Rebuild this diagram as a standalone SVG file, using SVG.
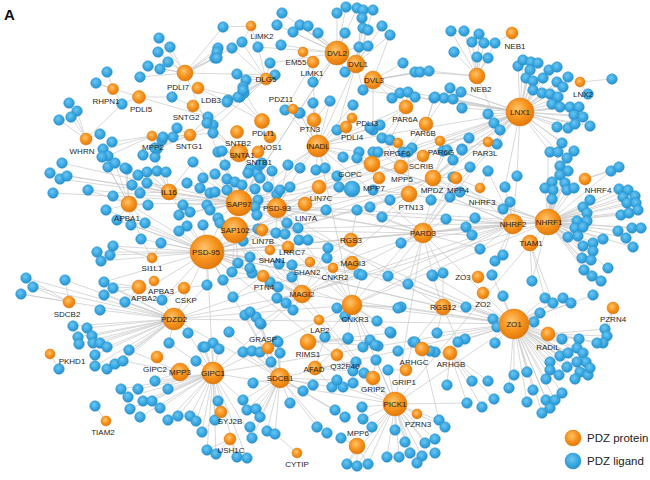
<svg xmlns="http://www.w3.org/2000/svg" width="650" height="480" viewBox="0 0 650 480">
<defs>
<radialGradient id="go" cx="42%" cy="38%" r="62%"><stop offset="0" stop-color="#ffc46e"/><stop offset="0.55" stop-color="#f7941d"/><stop offset="1" stop-color="#e27a0c"/></radialGradient>
<radialGradient id="gb" cx="42%" cy="38%" r="62%"><stop offset="0" stop-color="#6cc6f2"/><stop offset="0.6" stop-color="#3aa8e1"/><stop offset="1" stop-color="#2a93cf"/></radialGradient>
<style>
.e{stroke:#c9c9c9;stroke-width:0.7;fill:none}
.b{fill:url(#gb);stroke:#2b8fc9;stroke-width:0.5}
.o circle{fill:url(#go);stroke:#d9770e;stroke-width:0.5}
text{font-family:"Liberation Sans",Arial,sans-serif;font-size:8px;fill:#1e1e1e;text-anchor:middle}
.lg{font-size:11.5px;text-anchor:start;fill:#222}
</style>
</defs>
<rect width="650" height="480" fill="#fff"/>
<text x="4" y="20" style="font-size:15px;font-weight:bold;text-anchor:start;fill:#111">A</text>
<g id="connectors" class="e">
<path d="M185 73L159 38M185 73L170 47M185 73L158 52M185 73L168 62M185 73L160 69M185 73L148 66M185 73L140 77M185 73L172 97M185 73L223 27M185 73L217 52M185 73L217 58M185 73L215 58M185 73L218 48M185 73L275 75M185 73L232 48"/>
<path d="M139 97L122 104M139 97L172 97M139 97L96 83M139 97L208 117M113 89L107 72M113 89L96 83M113 89L122 104M86 139L69 103M86 139L77 111M86 139L59 120M86 139L71 117M86 139L100 134M86 139L122 104"/>
<path d="M152 136L157 149M152 136L162 140M152 136L112 142M152 136L103 149M152 136L108 156M190 135L173 137M190 135L177 128M190 135L163 137M190 135L155 148M190 135L143 155M190 135L213 125M190 135L213 133M190 135L208 117M193 106L172 97M193 106L208 117M198 88L227 102M198 88L238 97"/>
<path d="M251 26L223 27M251 26L242 42M251 26L258 47"/>
<path d="M337 53L282 13M337 53L277 25M337 53L300 25M337 53L308 26M337 53L293 32M337 53L318 33M337 53L346 7M337 53L337 13M337 53L357 8M337 53L345 33M337 53L313 82M337 53L345 72M337 53L359 47M337 53L281 45M337 53L270 63M337 53L258 47"/>
<path d="M356 64L363 10M356 64L373 10M356 64L362 18M356 64L363 28M356 64L368 30M356 64L382 26M356 64L368 46M356 64L390 35M356 64L345 72M356 64L363 90M356 64L337 130"/>
<path d="M373 80L390 35M373 80L403 63M373 80L415 72M373 80L392 98M373 80L400 93M373 80L408 92M373 80L420 72M373 80L429 71M373 80L363 90M373 80L373 130"/>
<path d="M266 79L237 74M266 79L246 80M266 79L243 87M266 79L244 93M266 79L240 97M266 79L228 100M266 79L275 75M266 79L270 63M266 79L258 47M266 79L207 123M266 79L213 128M266 79L242 42M266 79L232 48M313 62L313 82M313 62L285 110"/>
<path d="M477 76L451 31M477 76L464 31M477 76L479 34M477 76L472 42M477 76L484 43M477 76L495 43M477 76L454 52M477 76L477 57M477 76L488 58M477 76L500 130M477 76L420 72M477 76L429 71M512 33L495 43"/>
<path d="M520 112L518 66M520 112L523 60M520 112L531 62M520 112L538 63M520 112L530 70M520 112L549 70M520 112L557 67M520 112L526 78M520 112L533 81M520 112L543 78M520 112L557 82M520 112L568 77M520 112L533 90M520 112L542 93M520 112L550 94M520 112L558 97M520 112L563 87M520 112L552 104M520 112L560 107M520 112L570 107M520 112L579 107M520 112L574 115M520 112L583 117M520 112L557 127M520 112L568 128M520 112L575 124M520 112L590 126M520 112L488 114M520 112L494 123M520 112L500 130M520 112L462 108M520 112L453 99M520 112L444 98M520 112L434 98M520 112L461 92M520 112L450 88M520 112L408 92M520 112L363 90M520 112L505 187M520 112L517 176M520 112L469 138M520 112L462 149M520 112L497 144M520 112L550 152M520 112L558 152M520 112L562 143M520 112L574 151M520 112L415 97"/>
<path d="M580 82L612 79M580 82L588 94M406 107L392 98M406 107L400 93M406 107L408 92M406 107L415 97M406 107L373 130M406 107L382 138M406 107L390 140M426 124L435 97M426 124L444 98M426 124L434 98M426 124L443 151M426 124L412 148M426 124L403 152M440 141L443 151M440 141L469 138M398 143L373 152M398 143L403 152M398 143L412 148M398 143L382 138M488 142L497 144M488 142L462 149"/>
<path d="M548 222L548 152M548 222L558 152M548 222L574 151M548 222L567 158M548 222L560 166M548 222L568 171M548 222L560 175M548 222L565 183M548 222L552 182M548 222L545 188M548 222L553 190M548 222L567 190M548 222L574 188M548 222L552 199M548 222L590 200M548 222L583 207M548 222L587 213M548 222L577 221M548 222L587 221M548 222L575 228M548 222L568 237M548 222L578 236M548 222L583 227M548 222L583 246M548 222L593 243M548 222L603 239M548 222L593 251M548 222L582 258M548 222L591 260M548 222L584 270M548 222L592 276M548 222L601 281M548 222L608 268M548 222L618 231M548 222L626 238M548 222L633 247M548 222L632 228M548 222L641 228M548 222L619 189M548 222L628 190M548 222L635 196M548 222L623 197M548 222L627 203M548 222L636 203M548 222L621 215M548 222L629 213M548 222L638 210M548 222L532 281M548 222L611 171"/>
<path d="M585 179L611 171M585 179L619 167M513 224L488 171M513 224L517 176M513 224L505 187M513 224L510 202M513 224L503 209M513 224L475 218M513 224L466 227M513 224L472 235M513 224L446 219M513 224L480 249M513 224L495 261M513 224L503 255M513 224L453 177M513 224L450 197M480 188L488 171M480 188L453 177M530 243L532 281M530 243L545 298M530 243L553 303"/>
<path d="M423 233L431 200M423 233L446 219M423 233L450 197M423 233L453 177M423 233L466 227M423 233L472 235M423 233L401 243M423 233L408 284M423 233L433 276M423 233L443 273M423 233L480 249M423 233L388 276M423 233L357 210M423 233L382 217M433 178L447 150M433 178L462 150M433 178L453 160M433 178L470 167M433 178L460 192M433 178L431 200M433 178L453 177M433 178L443 151"/>
<path d="M409 194L390 200M409 194L373 190M409 194L370 207M409 194L357 208M409 194L382 217M409 194L408 152M401 167L378 152M401 167L408 152M401 167L382 138M401 167L390 140M379 178L373 190M379 178L357 158M372 164L359 152M372 164L343 157M372 164L357 158"/>
<path d="M318 146L313 103M318 146L330 101M318 146L300 113M318 146L285 110M318 146L299 113M318 146L316 170M318 146L325 168M318 146L337 130M318 146L343 157M318 146L359 152M318 146L300 168M318 146L288 165M318 146L337 176M318 146L353 105M318 146L370 128M318 146L380 125M318 146L313 82M314 120L299 113M314 120L313 103M314 120L330 101M262 121L238 97M262 121L227 102M262 121L243 90M239 153L207 123M239 153L213 128M239 153L213 133M239 153L222 151M239 153L218 152M239 153L225 165M239 153L250 169"/>
<path d="M514 324L493 319M514 324L534 322M514 324L540 313M514 324L562 339M514 324L579 339M514 324L577 348M514 324L583 353M514 324L560 356M514 324L568 353M514 324L586 362M514 324L577 362M514 324L550 362M514 324L567 367M514 324L559 375M514 324L550 370M514 324L546 379M514 324L580 372M514 324L588 375M514 324L590 368M514 324L575 379M514 324L527 372M514 324L514 375M514 324L509 388M514 324L533 390M514 324L527 402M514 324L546 400M514 324L555 400M514 324L562 393M514 324L550 408M514 324L542 413M514 324L495 343M514 324L465 339M514 324L437 333M514 324L503 296M514 324L492 275M514 324L553 303M514 324L563 298M514 324L571 303M514 324L545 298M514 324L593 295M514 324L497 327M514 324L458 342M514 324L432 275M514 324L401 307M514 324L408 284M514 324L388 276"/>
<path d="M548 334L605 329M548 334L607 336M548 334L603 343M548 334L597 343M613 308L605 329M613 308L607 336M450 353L472 381M450 353L447 385M450 353L482 407M450 353L467 403M450 353L494 399M450 353L488 381M450 353L435 352M422 349L435 352M422 349L415 342M422 349L430 351M422 349L439 420M406 370L388 370M406 370L413 342M373 378L364 373M373 378L376 360"/>
<path d="M395 404L362 407M395 404L363 419M395 404L372 427M395 404L347 464M395 404L357 466M395 404L368 464M395 404L387 457M395 404L399 457M395 404L395 430M395 404L405 442M395 404L410 453M395 404L417 463M395 404L435 439M395 404L425 443M395 404L435 453M395 404L422 456M395 404L439 420M395 404L445 427M395 404L388 370M395 404L376 360M395 404L364 373M395 404L353 383M395 404L343 387M395 404L467 403M357 446L347 464M357 446L357 466M357 446L368 464M357 446L341 438"/>
<path d="M352 305L337 308M352 305L345 316M352 305L377 321M352 305L398 308M352 305L348 338M352 305L325 337M352 305L363 347M352 305L375 345M352 305L390 332M352 305L362 275M352 305L327 258M352 305L401 307M302 294L279 264M302 294L292 277M302 294L277 298M302 294L286 303M302 294L293 310M302 294L270 282M302 294L278 287M302 294L292 265M302 294L250 268M302 294L250 312M302 294L260 323M302 294L359 274M302 294L328 248M443 307L466 307M443 307L437 333M443 307L458 342M443 307L432 275M443 307L443 273M443 307L415 342"/>
<path d="M280 378L245 315M280 378L256 317M280 378L261 324M280 378L277 341M280 378L280 353M280 378L243 352M280 378L252 351M280 378L271 362M280 378L253 383M280 378L243 400M280 378L247 410M280 378L256 409M280 378L260 417M280 378L250 427M280 378L267 431M280 378L275 434M280 378L290 403M280 378L303 391M280 378L313 385M280 378L229 332M280 378L252 438M280 378L332 387M280 378L337 380M280 378L317 427M280 378L327 433M280 378L335 410M280 378L345 417M280 378L278 342M280 378L260 352M315 368L325 337M315 368L348 339M315 368L353 371M315 368L356 362M315 368L332 387M308 342L325 337M308 342L348 339M308 342L370 340M308 342L378 346M308 342L391 333"/>
<path d="M213 373L213 343M213 373L219 349M213 373L203 347M213 373L169 343M213 373L188 333M213 373L196 361M213 373L205 347M213 373L155 381M213 373L168 389M213 373L121 389M213 373L138 389M213 373L128 397M213 373L143 401M213 373L152 401M213 373L130 409M213 373L140 417M213 373L160 408M213 373L168 420M213 373L178 416M213 373L190 416M213 373L196 421M213 373L202 432M213 373L207 450M213 373L215 420M213 373L218 410M213 373L216 454M213 373L237 457M213 373L247 458M213 373L252 438M213 373L243 400M180 372L155 381M180 372L168 389M180 372L129 350M180 372L123 361M221 412L202 432M230 439L207 450M230 439L216 454M230 439L237 457M297 453L275 434"/>
<path d="M174 319L73 326M174 319L87 328M174 319L78 337M174 319L92 336M174 319L79 344M174 319L93 343M174 319L100 343M174 319L107 347M174 319L95 355M174 319L95 366M174 319L107 369M174 319L115 364M174 319L123 361M174 319L129 350M174 319L100 310M174 319L104 282M174 319L113 288M174 319L104 295M174 319L26 278M174 319L33 287M174 319L21 294M174 319L65 280M174 319L125 302M174 319L162 300M174 319L188 333M174 319L169 343M174 319L207 285M50 354L59 369M106 421L95 406M69 302L26 278M69 302L33 287M69 302L21 294M69 302L65 280"/>
<path d="M207 252L203 225M207 252L220 223M207 252L207 285M207 252L161 243M207 252L141 239M207 252L179 231M207 252L187 226M207 252L145 223M207 252L131 225M207 252L117 220M207 252L106 210M207 252L97 252M207 252L101 261M207 252L110 255M207 252L113 246M207 252L223 280M207 252L232 272M207 252L233 297M207 252L162 300M207 252L125 302M207 252L104 282M207 252L243 241M207 252L250 257M207 252L238 263M207 252L252 273M207 252L328 248M207 252L388 276M207 252L359 274M207 252L357 210"/>
<path d="M239 203L222 151M239 203L203 178M239 203L215 174M239 203L225 165M239 203L227 179M239 203L235 182M239 203L242 185M239 203L250 169M239 203L257 173M239 203L210 193M239 203L210 210M239 203L187 183M239 203L193 162M239 203L200 188M239 203L227 190M239 203L215 192M239 203L183 205M239 203L190 212M239 203L179 215M239 203L207 205M239 203L218 218M239 203L60 179M239 203L67 176M239 203L53 193M239 203L88 190M239 203L50 173M239 203L62 163M239 203L339 187M239 203L248 173M239 203L260 178"/>
<path d="M235 230L258 229M235 230L243 241M235 230L250 257M235 230L238 263M235 230L232 272M235 230L252 273M235 230L220 223M235 230L210 210M235 230L276 233M277 208L277 194M277 208L255 189M277 208L258 200M277 208L255 207M277 208L257 215M277 208L260 165M277 208L272 171M277 208L288 165M277 208L300 168M277 208L287 223M277 208L276 233M277 208L285 234M277 208L298 228M277 208L299 240M277 208L308 240M277 208L262 163M277 208L268 187M277 208L280 190M277 208L290 187M277 208L326 210M277 208L337 176"/>
<path d="M169 192L157 171M169 192L166 172M169 192L147 172M169 192L138 175M169 192L147 183M169 192L132 185M169 192L140 193M169 192L155 158M169 192L127 169M169 192L193 162M129 204L113 196M129 204L148 205M129 204L131 225M129 204L145 223M129 204L117 220M129 204L106 210M129 204L102 157M129 204L108 167M129 204L127 169M129 204L88 190M129 204L115 163M129 204L125 168M129 204L141 239M152 258L161 243M152 258L141 239M152 258L113 246M139 287L104 282M139 287L113 288M139 287L104 295M139 287L125 302M184 288L162 300M184 288L207 285"/>
<path d="M263 276L252 273M263 276L232 272M263 276L223 280M263 276L233 297M262 230L258 229M262 230L243 241M288 247L299 240M288 247L308 240M288 247L285 234M351 240L328 248M351 240L327 258M351 240L357 210M268 348L261 324M268 348L243 352M268 348L252 351"/>
<path d="M207 252L423 233M207 252L514 324M207 252L352 305M207 252L409 194M207 252L433 178M207 252L513 224M207 252L548 222M207 252L443 307M207 252L302 294M207 252L395 404M207 252L372 164M207 252L520 112M207 252L318 146M207 252L280 378M207 252L213 373M207 252L174 319M239 203L318 146M239 203L520 112M239 203L423 233M239 203L409 194M239 203L548 222M239 203L352 305M239 203L401 167M239 203L337 53M239 203L514 324M235 230L423 233M235 230L514 324M235 230L433 178M235 230L548 222M235 230L302 294M235 230L395 404"/>
<path d="M277 208L423 233M277 208L520 112M277 208L513 224M277 208L443 307M277 208L352 305M318 146L520 112M318 146L423 233M318 146L548 222M318 146L406 107M318 146L352 305M520 112L352 305M520 112L423 233M520 112L433 178M520 112L401 167M520 112L409 194M520 112L372 164M520 112L302 294M514 324L302 294M514 324L352 305M514 324L280 378M514 324L423 233M514 324L213 373M514 324L174 319M514 324L395 404"/>
<path d="M174 319L302 294M174 319L352 305M174 319L423 233M174 319L280 378M213 373L302 294M213 373L352 305M213 373L395 404M395 404L423 233M395 404L302 294M395 404L352 305M395 404L548 222M548 222L423 233M548 222L409 194M548 222L352 305M548 222L372 164M548 222L433 178M548 222L302 294M513 224L401 243M513 224L388 276M513 224L372 164M513 224L352 305M302 294L423 233M302 294L513 224M356 64L318 146M169 192L207 252M129 204L239 203M129 204L207 252M337 53L239 203M185 73L239 203"/>
</g>
<g id="ligands">
<circle class="b" cx="159" cy="38" r="5.3"/><circle class="b" cx="170" cy="47" r="5.3"/><circle class="b" cx="158" cy="52" r="5.3"/><circle class="b" cx="168" cy="62" r="5.3"/><circle class="b" cx="160" cy="69" r="5.3"/><circle class="b" cx="148" cy="66" r="5.3"/><circle class="b" cx="107" cy="72" r="5.3"/><circle class="b" cx="96" cy="83" r="5.3"/><circle class="b" cx="140" cy="77" r="5.3"/><circle class="b" cx="122" cy="104" r="5.3"/><circle class="b" cx="172" cy="97" r="5.3"/><circle class="b" cx="69" cy="103" r="5.3"/><circle class="b" cx="77" cy="111" r="5.3"/><circle class="b" cx="59" cy="120" r="5.3"/><circle class="b" cx="71" cy="117" r="5.3"/><circle class="b" cx="100" cy="134" r="5.3"/><circle class="b" cx="112" cy="142" r="5.3"/><circle class="b" cx="103" cy="149" r="5.3"/><circle class="b" cx="108" cy="156" r="5.3"/><circle class="b" cx="157" cy="149" r="5.3"/><circle class="b" cx="162" cy="140" r="5.3"/><circle class="b" cx="173" cy="137" r="5.3"/><circle class="b" cx="177" cy="128" r="5.3"/><circle class="b" cx="208" cy="117" r="5.3"/><circle class="b" cx="213" cy="125" r="5.3"/><circle class="b" cx="213" cy="133" r="5.3"/><circle class="b" cx="215" cy="58" r="5.3"/><circle class="b" cx="218" cy="48" r="5.3"/><circle class="b" cx="218" cy="152" r="5.3"/><circle class="b" cx="155" cy="157" r="5.3"/>
<circle class="b" cx="223" cy="27" r="5.3"/><circle class="b" cx="282" cy="13" r="5.3"/><circle class="b" cx="277" cy="25" r="5.3"/><circle class="b" cx="300" cy="25" r="5.3"/><circle class="b" cx="308" cy="26" r="5.3"/><circle class="b" cx="293" cy="32" r="5.3"/><circle class="b" cx="318" cy="33" r="5.3"/><circle class="b" cx="346" cy="7" r="5.3"/><circle class="b" cx="337" cy="13" r="5.3"/><circle class="b" cx="357" cy="8" r="5.3"/><circle class="b" cx="363" cy="10" r="5.3"/><circle class="b" cx="373" cy="10" r="5.3"/><circle class="b" cx="362" cy="18" r="5.3"/><circle class="b" cx="363" cy="28" r="5.3"/><circle class="b" cx="368" cy="30" r="5.3"/><circle class="b" cx="345" cy="33" r="5.3"/><circle class="b" cx="382" cy="26" r="5.3"/><circle class="b" cx="390" cy="35" r="5.3"/><circle class="b" cx="359" cy="47" r="5.3"/><circle class="b" cx="368" cy="46" r="5.3"/><circle class="b" cx="242" cy="42" r="5.3"/><circle class="b" cx="232" cy="48" r="5.3"/><circle class="b" cx="217" cy="52" r="5.3"/><circle class="b" cx="217" cy="58" r="5.3"/><circle class="b" cx="258" cy="47" r="5.3"/><circle class="b" cx="281" cy="45" r="5.3"/><circle class="b" cx="270" cy="63" r="5.3"/><circle class="b" cx="237" cy="74" r="5.3"/><circle class="b" cx="246" cy="80" r="5.3"/><circle class="b" cx="243" cy="87" r="5.3"/><circle class="b" cx="244" cy="93" r="5.3"/><circle class="b" cx="240" cy="97" r="5.3"/><circle class="b" cx="228" cy="100" r="5.3"/><circle class="b" cx="275" cy="75" r="5.3"/><circle class="b" cx="313" cy="82" r="5.3"/><circle class="b" cx="285" cy="110" r="5.3"/><circle class="b" cx="300" cy="113" r="5.3"/><circle class="b" cx="313" cy="103" r="5.3"/><circle class="b" cx="330" cy="101" r="5.3"/><circle class="b" cx="353" cy="105" r="5.3"/><circle class="b" cx="345" cy="72" r="5.3"/><circle class="b" cx="363" cy="90" r="5.3"/><circle class="b" cx="337" cy="130" r="5.3"/><circle class="b" cx="392" cy="98" r="5.3"/><circle class="b" cx="400" cy="93" r="5.3"/><circle class="b" cx="408" cy="92" r="5.3"/><circle class="b" cx="373" cy="130" r="5.3"/><circle class="b" cx="382" cy="138" r="5.3"/><circle class="b" cx="390" cy="140" r="5.3"/><circle class="b" cx="373" cy="152" r="5.3"/><circle class="b" cx="403" cy="152" r="5.3"/><circle class="b" cx="412" cy="148" r="5.3"/><circle class="b" cx="403" cy="63" r="5.3"/><circle class="b" cx="415" cy="72" r="5.3"/><circle class="b" cx="207" cy="123" r="5.3"/><circle class="b" cx="222" cy="151" r="5.3"/><circle class="b" cx="227" cy="102" r="5.3"/><circle class="b" cx="238" cy="97" r="5.3"/><circle class="b" cx="243" cy="90" r="5.3"/>
<circle class="b" cx="451" cy="31" r="5.3"/><circle class="b" cx="464" cy="31" r="5.3"/><circle class="b" cx="479" cy="34" r="5.3"/><circle class="b" cx="472" cy="42" r="5.3"/><circle class="b" cx="484" cy="43" r="5.3"/><circle class="b" cx="495" cy="43" r="5.3"/><circle class="b" cx="454" cy="52" r="5.3"/><circle class="b" cx="477" cy="57" r="5.3"/><circle class="b" cx="488" cy="58" r="5.3"/><circle class="b" cx="420" cy="72" r="5.3"/><circle class="b" cx="429" cy="71" r="5.3"/><circle class="b" cx="518" cy="66" r="5.3"/><circle class="b" cx="523" cy="60" r="5.3"/><circle class="b" cx="531" cy="62" r="5.3"/><circle class="b" cx="538" cy="63" r="5.3"/><circle class="b" cx="530" cy="70" r="5.3"/><circle class="b" cx="549" cy="70" r="5.3"/><circle class="b" cx="557" cy="67" r="5.3"/><circle class="b" cx="526" cy="78" r="5.3"/><circle class="b" cx="533" cy="81" r="5.3"/><circle class="b" cx="543" cy="78" r="5.3"/><circle class="b" cx="557" cy="82" r="5.3"/><circle class="b" cx="568" cy="77" r="5.3"/><circle class="b" cx="612" cy="79" r="5.3"/><circle class="b" cx="533" cy="90" r="5.3"/><circle class="b" cx="542" cy="93" r="5.3"/><circle class="b" cx="550" cy="94" r="5.3"/><circle class="b" cx="558" cy="97" r="5.3"/><circle class="b" cx="563" cy="87" r="5.3"/><circle class="b" cx="588" cy="94" r="5.3"/><circle class="b" cx="552" cy="104" r="5.3"/><circle class="b" cx="560" cy="107" r="5.3"/><circle class="b" cx="570" cy="107" r="5.3"/><circle class="b" cx="579" cy="107" r="5.3"/><circle class="b" cx="574" cy="115" r="5.3"/><circle class="b" cx="583" cy="117" r="5.3"/><circle class="b" cx="557" cy="127" r="5.3"/><circle class="b" cx="568" cy="128" r="5.3"/><circle class="b" cx="575" cy="124" r="5.3"/><circle class="b" cx="590" cy="126" r="5.3"/><circle class="b" cx="434" cy="98" r="5.3"/><circle class="b" cx="444" cy="98" r="5.3"/><circle class="b" cx="450" cy="88" r="5.3"/><circle class="b" cx="453" cy="99" r="5.3"/><circle class="b" cx="461" cy="92" r="5.3"/><circle class="b" cx="462" cy="108" r="5.3"/><circle class="b" cx="488" cy="114" r="5.3"/><circle class="b" cx="494" cy="123" r="5.3"/><circle class="b" cx="500" cy="130" r="5.3"/><circle class="b" cx="469" cy="138" r="5.3"/><circle class="b" cx="462" cy="149" r="5.3"/><circle class="b" cx="497" cy="144" r="5.3"/><circle class="b" cx="550" cy="152" r="5.3"/><circle class="b" cx="558" cy="152" r="5.3"/><circle class="b" cx="562" cy="143" r="5.3"/><circle class="b" cx="574" cy="151" r="5.3"/><circle class="b" cx="443" cy="151" r="5.3"/><circle class="b" cx="435" cy="97" r="5.3"/><circle class="b" cx="415" cy="97" r="5.3"/>
<circle class="b" cx="567" cy="158" r="5.3"/><circle class="b" cx="560" cy="166" r="5.3"/><circle class="b" cx="568" cy="171" r="5.3"/><circle class="b" cx="560" cy="175" r="5.3"/><circle class="b" cx="565" cy="183" r="5.3"/><circle class="b" cx="552" cy="182" r="5.3"/><circle class="b" cx="545" cy="188" r="5.3"/><circle class="b" cx="553" cy="190" r="5.3"/><circle class="b" cx="567" cy="190" r="5.3"/><circle class="b" cx="574" cy="188" r="5.3"/><circle class="b" cx="552" cy="199" r="5.3"/><circle class="b" cx="488" cy="171" r="5.3"/><circle class="b" cx="517" cy="176" r="5.3"/><circle class="b" cx="505" cy="187" r="5.3"/><circle class="b" cx="510" cy="202" r="5.3"/><circle class="b" cx="503" cy="209" r="5.3"/><circle class="b" cx="475" cy="218" r="5.3"/><circle class="b" cx="466" cy="227" r="5.3"/><circle class="b" cx="472" cy="235" r="5.3"/><circle class="b" cx="446" cy="219" r="5.3"/><circle class="b" cx="480" cy="249" r="5.3"/><circle class="b" cx="495" cy="261" r="5.3"/><circle class="b" cx="503" cy="255" r="5.3"/><circle class="b" cx="453" cy="177" r="5.3"/><circle class="b" cx="450" cy="197" r="5.3"/><circle class="b" cx="431" cy="200" r="5.3"/><circle class="b" cx="611" cy="171" r="5.3"/><circle class="b" cx="619" cy="167" r="5.3"/><circle class="b" cx="590" cy="200" r="5.3"/><circle class="b" cx="583" cy="207" r="5.3"/><circle class="b" cx="587" cy="213" r="5.3"/><circle class="b" cx="577" cy="221" r="5.3"/><circle class="b" cx="587" cy="221" r="5.3"/><circle class="b" cx="575" cy="228" r="5.3"/><circle class="b" cx="568" cy="237" r="5.3"/><circle class="b" cx="578" cy="236" r="5.3"/><circle class="b" cx="583" cy="227" r="5.3"/><circle class="b" cx="583" cy="246" r="5.3"/><circle class="b" cx="593" cy="243" r="5.3"/><circle class="b" cx="603" cy="239" r="5.3"/><circle class="b" cx="593" cy="251" r="5.3"/><circle class="b" cx="582" cy="258" r="5.3"/><circle class="b" cx="591" cy="260" r="5.3"/><circle class="b" cx="584" cy="270" r="5.3"/><circle class="b" cx="592" cy="276" r="5.3"/><circle class="b" cx="601" cy="281" r="5.3"/><circle class="b" cx="608" cy="268" r="5.3"/><circle class="b" cx="618" cy="231" r="5.3"/><circle class="b" cx="626" cy="238" r="5.3"/><circle class="b" cx="633" cy="247" r="5.3"/><circle class="b" cx="632" cy="228" r="5.3"/><circle class="b" cx="641" cy="228" r="5.3"/><circle class="b" cx="619" cy="189" r="5.3"/><circle class="b" cx="628" cy="190" r="5.3"/><circle class="b" cx="635" cy="196" r="5.3"/><circle class="b" cx="623" cy="197" r="5.3"/><circle class="b" cx="627" cy="203" r="5.3"/><circle class="b" cx="636" cy="203" r="5.3"/><circle class="b" cx="621" cy="215" r="5.3"/><circle class="b" cx="629" cy="213" r="5.3"/><circle class="b" cx="638" cy="210" r="5.3"/><circle class="b" cx="532" cy="281" r="5.3"/><circle class="b" cx="593" cy="295" r="5.3"/><circle class="b" cx="545" cy="298" r="5.3"/><circle class="b" cx="553" cy="303" r="5.3"/><circle class="b" cx="563" cy="298" r="5.3"/><circle class="b" cx="571" cy="303" r="5.3"/><circle class="b" cx="503" cy="296" r="5.3"/><circle class="b" cx="492" cy="275" r="5.3"/><circle class="b" cx="433" cy="276" r="5.3"/><circle class="b" cx="443" cy="273" r="5.3"/><circle class="b" cx="466" cy="307" r="5.3"/>
<circle class="b" cx="493" cy="319" r="5.3"/><circle class="b" cx="534" cy="322" r="5.3"/><circle class="b" cx="540" cy="313" r="5.3"/><circle class="b" cx="605" cy="329" r="5.3"/><circle class="b" cx="607" cy="336" r="5.3"/><circle class="b" cx="603" cy="343" r="5.3"/><circle class="b" cx="597" cy="343" r="5.3"/><circle class="b" cx="562" cy="339" r="5.3"/><circle class="b" cx="579" cy="339" r="5.3"/><circle class="b" cx="577" cy="348" r="5.3"/><circle class="b" cx="583" cy="353" r="5.3"/><circle class="b" cx="560" cy="356" r="5.3"/><circle class="b" cx="568" cy="353" r="5.3"/><circle class="b" cx="586" cy="362" r="5.3"/><circle class="b" cx="577" cy="362" r="5.3"/><circle class="b" cx="550" cy="362" r="5.3"/><circle class="b" cx="567" cy="367" r="5.3"/><circle class="b" cx="559" cy="375" r="5.3"/><circle class="b" cx="550" cy="370" r="5.3"/><circle class="b" cx="546" cy="379" r="5.3"/><circle class="b" cx="580" cy="372" r="5.3"/><circle class="b" cx="588" cy="375" r="5.3"/><circle class="b" cx="590" cy="368" r="5.3"/><circle class="b" cx="575" cy="379" r="5.3"/><circle class="b" cx="495" cy="343" r="5.3"/><circle class="b" cx="465" cy="339" r="5.3"/><circle class="b" cx="437" cy="333" r="5.3"/><circle class="b" cx="435" cy="352" r="5.3"/><circle class="b" cx="527" cy="372" r="5.3"/><circle class="b" cx="514" cy="375" r="5.3"/><circle class="b" cx="509" cy="388" r="5.3"/><circle class="b" cx="533" cy="390" r="5.3"/><circle class="b" cx="527" cy="402" r="5.3"/><circle class="b" cx="546" cy="400" r="5.3"/><circle class="b" cx="555" cy="400" r="5.3"/><circle class="b" cx="562" cy="393" r="5.3"/><circle class="b" cx="550" cy="408" r="5.3"/><circle class="b" cx="542" cy="413" r="5.3"/><circle class="b" cx="488" cy="381" r="5.3"/><circle class="b" cx="472" cy="381" r="5.3"/><circle class="b" cx="447" cy="385" r="5.3"/><circle class="b" cx="494" cy="399" r="5.3"/><circle class="b" cx="482" cy="407" r="5.3"/><circle class="b" cx="467" cy="403" r="5.3"/><circle class="b" cx="439" cy="420" r="5.3"/><circle class="b" cx="445" cy="427" r="5.3"/><circle class="b" cx="435" cy="439" r="5.3"/><circle class="b" cx="425" cy="443" r="5.3"/><circle class="b" cx="435" cy="453" r="5.3"/><circle class="b" cx="422" cy="456" r="5.3"/>
<circle class="b" cx="245" cy="315" r="5.3"/><circle class="b" cx="256" cy="317" r="5.3"/><circle class="b" cx="261" cy="324" r="5.3"/><circle class="b" cx="229" cy="332" r="5.3"/><circle class="b" cx="277" cy="341" r="5.3"/><circle class="b" cx="280" cy="353" r="5.3"/><circle class="b" cx="243" cy="352" r="5.3"/><circle class="b" cx="252" cy="351" r="5.3"/><circle class="b" cx="271" cy="362" r="5.3"/><circle class="b" cx="213" cy="343" r="5.3"/><circle class="b" cx="219" cy="349" r="5.3"/><circle class="b" cx="203" cy="347" r="5.3"/><circle class="b" cx="325" cy="337" r="5.3"/><circle class="b" cx="348" cy="339" r="5.3"/><circle class="b" cx="370" cy="340" r="5.3"/><circle class="b" cx="378" cy="346" r="5.3"/><circle class="b" cx="391" cy="333" r="5.3"/><circle class="b" cx="413" cy="342" r="5.3"/><circle class="b" cx="398" cy="351" r="5.3"/><circle class="b" cx="356" cy="362" r="5.3"/><circle class="b" cx="376" cy="360" r="5.3"/><circle class="b" cx="364" cy="373" r="5.3"/><circle class="b" cx="388" cy="370" r="5.3"/><circle class="b" cx="353" cy="371" r="5.3"/><circle class="b" cx="353" cy="383" r="5.3"/><circle class="b" cx="343" cy="387" r="5.3"/><circle class="b" cx="332" cy="387" r="5.3"/><circle class="b" cx="337" cy="380" r="5.3"/><circle class="b" cx="313" cy="385" r="5.3"/><circle class="b" cx="303" cy="391" r="5.3"/><circle class="b" cx="253" cy="383" r="5.3"/><circle class="b" cx="243" cy="400" r="5.3"/><circle class="b" cx="247" cy="410" r="5.3"/><circle class="b" cx="256" cy="409" r="5.3"/><circle class="b" cx="260" cy="417" r="5.3"/><circle class="b" cx="250" cy="427" r="5.3"/><circle class="b" cx="267" cy="431" r="5.3"/><circle class="b" cx="275" cy="434" r="5.3"/><circle class="b" cx="252" cy="438" r="5.3"/><circle class="b" cx="290" cy="403" r="5.3"/><circle class="b" cx="317" cy="427" r="5.3"/><circle class="b" cx="327" cy="433" r="5.3"/><circle class="b" cx="341" cy="438" r="5.3"/><circle class="b" cx="335" cy="410" r="5.3"/><circle class="b" cx="345" cy="417" r="5.3"/><circle class="b" cx="362" cy="407" r="5.3"/><circle class="b" cx="363" cy="419" r="5.3"/><circle class="b" cx="372" cy="427" r="5.3"/><circle class="b" cx="347" cy="464" r="5.3"/><circle class="b" cx="357" cy="466" r="5.3"/><circle class="b" cx="368" cy="464" r="5.3"/><circle class="b" cx="387" cy="457" r="5.3"/><circle class="b" cx="399" cy="457" r="5.3"/><circle class="b" cx="395" cy="430" r="5.3"/><circle class="b" cx="405" cy="442" r="5.3"/><circle class="b" cx="410" cy="453" r="5.3"/><circle class="b" cx="417" cy="463" r="5.3"/><circle class="b" cx="202" cy="432" r="5.3"/><circle class="b" cx="207" cy="450" r="5.3"/><circle class="b" cx="216" cy="454" r="5.3"/><circle class="b" cx="237" cy="457" r="5.3"/><circle class="b" cx="247" cy="458" r="5.3"/>
<circle class="b" cx="73" cy="326" r="5.3"/><circle class="b" cx="87" cy="328" r="5.3"/><circle class="b" cx="78" cy="337" r="5.3"/><circle class="b" cx="92" cy="336" r="5.3"/><circle class="b" cx="79" cy="344" r="5.3"/><circle class="b" cx="93" cy="343" r="5.3"/><circle class="b" cx="100" cy="343" r="5.3"/><circle class="b" cx="107" cy="347" r="5.3"/><circle class="b" cx="95" cy="355" r="5.3"/><circle class="b" cx="95" cy="366" r="5.3"/><circle class="b" cx="107" cy="369" r="5.3"/><circle class="b" cx="115" cy="364" r="5.3"/><circle class="b" cx="123" cy="361" r="5.3"/><circle class="b" cx="129" cy="350" r="5.3"/><circle class="b" cx="59" cy="369" r="5.3"/><circle class="b" cx="95" cy="406" r="5.3"/><circle class="b" cx="169" cy="343" r="5.3"/><circle class="b" cx="188" cy="333" r="5.3"/><circle class="b" cx="196" cy="361" r="5.3"/><circle class="b" cx="205" cy="347" r="5.3"/><circle class="b" cx="155" cy="381" r="5.3"/><circle class="b" cx="168" cy="389" r="5.3"/><circle class="b" cx="121" cy="389" r="5.3"/><circle class="b" cx="138" cy="389" r="5.3"/><circle class="b" cx="128" cy="397" r="5.3"/><circle class="b" cx="143" cy="401" r="5.3"/><circle class="b" cx="152" cy="401" r="5.3"/><circle class="b" cx="130" cy="409" r="5.3"/><circle class="b" cx="140" cy="417" r="5.3"/><circle class="b" cx="160" cy="408" r="5.3"/><circle class="b" cx="168" cy="420" r="5.3"/><circle class="b" cx="178" cy="416" r="5.3"/><circle class="b" cx="190" cy="416" r="5.3"/><circle class="b" cx="196" cy="421" r="5.3"/><circle class="b" cx="215" cy="420" r="5.3"/><circle class="b" cx="218" cy="401" r="5.3"/><circle class="b" cx="100" cy="310" r="5.3"/>
<circle class="b" cx="62" cy="163" r="5.3"/><circle class="b" cx="50" cy="173" r="5.3"/><circle class="b" cx="60" cy="179" r="5.3"/><circle class="b" cx="67" cy="176" r="5.3"/><circle class="b" cx="53" cy="193" r="5.3"/><circle class="b" cx="88" cy="190" r="5.3"/><circle class="b" cx="102" cy="157" r="5.3"/><circle class="b" cx="108" cy="167" r="5.3"/><circle class="b" cx="127" cy="169" r="5.3"/><circle class="b" cx="138" cy="175" r="5.3"/><circle class="b" cx="147" cy="172" r="5.3"/><circle class="b" cx="157" cy="171" r="5.3"/><circle class="b" cx="166" cy="172" r="5.3"/><circle class="b" cx="147" cy="183" r="5.3"/><circle class="b" cx="132" cy="185" r="5.3"/><circle class="b" cx="140" cy="193" r="5.3"/><circle class="b" cx="113" cy="196" r="5.3"/><circle class="b" cx="106" cy="210" r="5.3"/><circle class="b" cx="117" cy="220" r="5.3"/><circle class="b" cx="131" cy="225" r="5.3"/><circle class="b" cx="145" cy="223" r="5.3"/><circle class="b" cx="148" cy="205" r="5.3"/><circle class="b" cx="141" cy="239" r="5.3"/><circle class="b" cx="161" cy="243" r="5.3"/><circle class="b" cx="97" cy="252" r="5.3"/><circle class="b" cx="101" cy="261" r="5.3"/><circle class="b" cx="110" cy="255" r="5.3"/><circle class="b" cx="113" cy="246" r="5.3"/><circle class="b" cx="104" cy="282" r="5.3"/><circle class="b" cx="113" cy="288" r="5.3"/><circle class="b" cx="104" cy="295" r="5.3"/><circle class="b" cx="65" cy="280" r="5.3"/><circle class="b" cx="26" cy="278" r="5.3"/><circle class="b" cx="33" cy="287" r="5.3"/><circle class="b" cx="21" cy="294" r="5.3"/><circle class="b" cx="162" cy="300" r="5.3"/><circle class="b" cx="125" cy="302" r="5.3"/><circle class="b" cx="207" cy="285" r="5.3"/><circle class="b" cx="193" cy="162" r="5.3"/><circle class="b" cx="203" cy="178" r="5.3"/><circle class="b" cx="210" cy="193" r="5.3"/><circle class="b" cx="187" cy="183" r="5.3"/><circle class="b" cx="183" cy="205" r="5.3"/><circle class="b" cx="190" cy="212" r="5.3"/><circle class="b" cx="179" cy="215" r="5.3"/><circle class="b" cx="187" cy="226" r="5.3"/><circle class="b" cx="203" cy="225" r="5.3"/><circle class="b" cx="179" cy="231" r="5.3"/><circle class="b" cx="207" cy="205" r="5.3"/><circle class="b" cx="218" cy="218" r="5.3"/><circle class="b" cx="115" cy="163" r="5.3"/><circle class="b" cx="125" cy="168" r="5.3"/><circle class="b" cx="163" cy="137" r="5.3"/><circle class="b" cx="155" cy="148" r="5.3"/><circle class="b" cx="143" cy="155" r="5.3"/>
<circle class="b" cx="215" cy="174" r="5.3"/><circle class="b" cx="225" cy="165" r="5.3"/><circle class="b" cx="227" cy="179" r="5.3"/><circle class="b" cx="235" cy="182" r="5.3"/><circle class="b" cx="242" cy="185" r="5.3"/><circle class="b" cx="250" cy="169" r="5.3"/><circle class="b" cx="257" cy="173" r="5.3"/><circle class="b" cx="260" cy="165" r="5.3"/><circle class="b" cx="272" cy="171" r="5.3"/><circle class="b" cx="288" cy="165" r="5.3"/><circle class="b" cx="300" cy="168" r="5.3"/><circle class="b" cx="316" cy="170" r="5.3"/><circle class="b" cx="325" cy="168" r="5.3"/><circle class="b" cx="277" cy="194" r="5.3"/><circle class="b" cx="255" cy="189" r="5.3"/><circle class="b" cx="258" cy="200" r="5.3"/><circle class="b" cx="255" cy="207" r="5.3"/><circle class="b" cx="257" cy="215" r="5.3"/><circle class="b" cx="210" cy="210" r="5.3"/><circle class="b" cx="220" cy="223" r="5.3"/><circle class="b" cx="258" cy="229" r="5.3"/><circle class="b" cx="276" cy="233" r="5.3"/><circle class="b" cx="285" cy="234" r="5.3"/><circle class="b" cx="298" cy="228" r="5.3"/><circle class="b" cx="299" cy="240" r="5.3"/><circle class="b" cx="308" cy="240" r="5.3"/><circle class="b" cx="328" cy="248" r="5.3"/><circle class="b" cx="287" cy="223" r="5.3"/><circle class="b" cx="243" cy="241" r="5.3"/><circle class="b" cx="250" cy="257" r="5.3"/><circle class="b" cx="238" cy="263" r="5.3"/><circle class="b" cx="232" cy="272" r="5.3"/><circle class="b" cx="252" cy="273" r="5.3"/><circle class="b" cx="223" cy="280" r="5.3"/><circle class="b" cx="233" cy="297" r="5.3"/><circle class="b" cx="277" cy="298" r="5.3"/><circle class="b" cx="286" cy="303" r="5.3"/><circle class="b" cx="292" cy="277" r="5.3"/><circle class="b" cx="279" cy="264" r="5.3"/><circle class="b" cx="337" cy="176" r="5.3"/><circle class="b" cx="339" cy="187" r="5.3"/><circle class="b" cx="326" cy="210" r="5.3"/><circle class="b" cx="357" cy="210" r="5.3"/><circle class="b" cx="382" cy="217" r="5.3"/><circle class="b" cx="359" cy="152" r="5.3"/><circle class="b" cx="343" cy="157" r="5.3"/><circle class="b" cx="401" cy="243" r="5.3"/><circle class="b" cx="408" cy="284" r="5.3"/><circle class="b" cx="388" cy="276" r="5.3"/><circle class="b" cx="359" cy="274" r="5.3"/><circle class="b" cx="337" cy="308" r="5.3"/><circle class="b" cx="401" cy="307" r="5.3"/><circle class="b" cx="432" cy="275" r="5.3"/><circle class="b" cx="362" cy="275" r="5.3"/><circle class="b" cx="345" cy="316" r="5.3"/><circle class="b" cx="377" cy="321" r="5.3"/><circle class="b" cx="398" cy="308" r="5.3"/><circle class="b" cx="390" cy="332" r="5.3"/><circle class="b" cx="348" cy="338" r="5.3"/><circle class="b" cx="363" cy="347" r="5.3"/><circle class="b" cx="375" cy="345" r="5.3"/><circle class="b" cx="415" cy="342" r="5.3"/><circle class="b" cx="430" cy="351" r="5.3"/><circle class="b" cx="458" cy="342" r="5.3"/><circle class="b" cx="497" cy="327" r="5.3"/><circle class="b" cx="278" cy="342" r="5.3"/><circle class="b" cx="260" cy="352" r="5.3"/><circle class="b" cx="250" cy="268" r="5.3"/><circle class="b" cx="292" cy="265" r="5.3"/><circle class="b" cx="270" cy="282" r="5.3"/><circle class="b" cx="278" cy="287" r="5.3"/><circle class="b" cx="293" cy="310" r="5.3"/><circle class="b" cx="250" cy="312" r="5.3"/><circle class="b" cx="260" cy="323" r="5.3"/><circle class="b" cx="327" cy="258" r="5.3"/><circle class="b" cx="200" cy="188" r="5.3"/><circle class="b" cx="227" cy="190" r="5.3"/><circle class="b" cx="215" cy="192" r="5.3"/><circle class="b" cx="248" cy="173" r="5.3"/><circle class="b" cx="260" cy="178" r="5.3"/><circle class="b" cx="268" cy="187" r="5.3"/><circle class="b" cx="280" cy="190" r="5.3"/><circle class="b" cx="290" cy="187" r="5.3"/><circle class="b" cx="262" cy="163" r="5.3"/><circle class="b" cx="299" cy="113" r="5.3"/><circle class="b" cx="370" cy="128" r="5.3"/><circle class="b" cx="380" cy="125" r="5.3"/><circle class="b" cx="378" cy="152" r="5.3"/><circle class="b" cx="408" cy="152" r="5.3"/><circle class="b" cx="447" cy="150" r="5.3"/><circle class="b" cx="462" cy="150" r="5.3"/><circle class="b" cx="453" cy="160" r="5.3"/><circle class="b" cx="470" cy="167" r="5.3"/><circle class="b" cx="357" cy="158" r="5.3"/><circle class="b" cx="373" cy="190" r="5.3"/><circle class="b" cx="390" cy="200" r="5.3"/><circle class="b" cx="370" cy="207" r="5.3"/><circle class="b" cx="460" cy="192" r="5.3"/>
<circle class="b" cx="352" cy="189" r="8"/>
</g>
<g id="PDLI7" class="o"><circle cx="185" cy="73" r="8"/><text x="178" y="90">PDLI7</text></g>
<g id="LDB3" class="o"><circle cx="198" cy="88" r="6"/><text x="211" y="103">LDB3</text></g>
<g id="RHPN1" class="o"><circle cx="113" cy="89" r="5.5"/><text x="106" y="104">RHPN1</text></g>
<g id="PDLI5" class="o"><circle cx="139" cy="97" r="6.5"/><text x="141" y="112">PDLI5</text></g>
<g id="SNTG2" class="o"><circle cx="193" cy="106" r="6"/><text x="186" y="120">SNTG2</text></g>
<g id="WHRN" class="o"><circle cx="86" cy="139" r="6"/><text x="82" y="154">WHRN</text></g>
<g id="MPP2" class="o"><circle cx="152" cy="136" r="5"/><text x="153" y="150">MPP2</text></g>
<g id="SNTG1" class="o"><circle cx="190" cy="135" r="6"/><text x="189" y="149">SNTG1</text></g>
<g id="LIMK2" class="o"><circle cx="251" cy="26" r="5"/><text x="262" y="39">LIMK2</text></g>
<g id="EM55" class="o"><circle cx="303" cy="52" r="5"/><text x="296" y="65">EM55</text></g>
<g id="LIMK1" class="o"><circle cx="313" cy="62" r="6"/><text x="312" y="76">LIMK1</text></g>
<g id="DVL2" class="o"><circle cx="337" cy="53" r="12"/><text x="337" y="56">DVL2</text></g>
<g id="DVL1" class="o"><circle cx="356" cy="64" r="9"/><text x="358" y="67">DVL1</text></g>
<g id="DVL3" class="o"><circle cx="373" cy="80" r="9"/><text x="374" y="83">DVL3</text></g>
<g id="DLG5" class="o"><circle cx="266" cy="79" r="6"/><text x="266" y="82">DLG5</text></g>
<g id="PDZ11" class="o"><circle cx="293" cy="109" r="5"/><text x="281" y="102">PDZ11</text></g>
<g id="NOS1" class="o"><circle cx="270" cy="137" r="6"/><text x="271" y="150">NOS1</text></g>
<g id="PDLI1" class="o"><circle cx="262" cy="121" r="7.5"/><text x="263" y="136">PDLI1</text></g>
<g id="SNTB1" class="o"><circle cx="258" cy="152" r="6"/><text x="259" y="165">SNTB1</text></g>
<g id="SNTA1" class="o"><circle cx="239" cy="153" r="9"/><text x="242" y="158">SNTA1</text></g>
<g id="SNTB2" class="o"><circle cx="237" cy="132" r="6.5"/><text x="238" y="146">SNTB2</text></g>
<g id="PTN3" class="o"><circle cx="314" cy="120" r="7"/><text x="310" y="132">PTN3</text></g>
<g id="INADL" class="o"><circle cx="318" cy="146" r="11"/><text x="318" y="149">INADL</text></g>
<g id="PDLI4" class="o"><circle cx="346" cy="127" r="6"/><text x="352" y="140">PDLI4</text></g>
<g id="PDLI3" class="o"><circle cx="352" cy="118" r="5"/><text x="367" y="126">PDLI3</text></g>
<g id="PAR6A" class="o"><circle cx="406" cy="107" r="7"/><text x="405" y="122">PAR6A</text></g>
<g id="PAR6B" class="o"><circle cx="426" cy="124" r="7"/><text x="423" y="136">PAR6B</text></g>
<g id="PAR6G" class="o"><circle cx="440" cy="141" r="5"/><text x="441" y="155">PAR6G</text></g>
<g id="RPGF6" class="o"><circle cx="398" cy="143" r="5"/><text x="397" y="156">RPGF6</text></g>
<g id="SCRIB" class="o"><circle cx="423" cy="156" r="6"/><text x="421" y="169">SCRIB</text></g>
<g id="PAR3L" class="o"><circle cx="488" cy="142" r="5"/><text x="485" y="156">PAR3L</text></g>
<g id="NEB1" class="o"><circle cx="512" cy="33" r="6"/><text x="515" y="49">NEB1</text></g>
<g id="NEB2" class="o"><circle cx="477" cy="76" r="8"/><text x="481" y="92">NEB2</text></g>
<g id="LNX1" class="o"><circle cx="520" cy="112" r="14"/><text x="520" y="115">LNX1</text></g>
<g id="LNX2" class="o"><circle cx="580" cy="82" r="5"/><text x="583" y="97">LNX2</text></g>
<g id="n-unlabeled" class="o"><circle cx="372" cy="164" r="8"/></g>
<g id="GOPC"><text x="350" y="177">GOPC</text></g>
<g id="MPP7" class="o"><circle cx="379" cy="178" r="6"/><text x="374" y="191">MPP7</text></g>
<g id="MPP5" class="o"><circle cx="401" cy="167" r="7"/><text x="402" y="182">MPP5</text></g>
<g id="MPDZ" class="o"><circle cx="433" cy="178" r="8"/><text x="432" y="193">MPDZ</text></g>
<g id="MPP4" class="o"><circle cx="456" cy="178" r="6"/><text x="458" y="193">MPP4</text></g>
<g id="PTN13" class="o"><circle cx="409" cy="194" r="8"/><text x="411" y="210">PTN13</text></g>
<g id="NHRF3" class="o"><circle cx="480" cy="188" r="5"/><text x="482" y="205">NHRF3</text></g>
<g id="NHRF4" class="o"><circle cx="585" cy="179" r="6"/><text x="598" y="193">NHRF4</text></g>
<g id="NHRF2" class="o"><circle cx="513" cy="224" r="10"/><text x="513" y="227">NHRF2</text></g>
<g id="NHRF1" class="o"><circle cx="548" cy="222" r="13"/><text x="549" y="225">NHRF1</text></g>
<g id="TIAM1" class="o"><circle cx="530" cy="243" r="8"/><text x="531" y="246">TIAM1</text></g>
<g id="PARD3" class="o"><circle cx="423" cy="233" r="10"/><text x="423" y="236">PARD3</text></g>
<g id="IL16" class="o"><circle cx="169" cy="192" r="8"/><text x="169" y="195">IL16</text></g>
<g id="APBA1" class="o"><circle cx="129" cy="204" r="8"/><text x="127" y="221">APBA1</text></g>
<g id="SAP97" class="o"><circle cx="239" cy="203" r="13"/><text x="239" y="207">SAP97</text></g>
<g id="PSD-93" class="o"><circle cx="277" cy="208" r="10"/><text x="277" y="211">PSD-93</text></g>
<g id="LIN7C" class="o"><circle cx="319" cy="187" r="7"/><text x="321" y="201">LIN7C</text></g>
<g id="LIN7A" class="o"><circle cx="305" cy="204" r="7"/><text x="306" y="221">LIN7A</text></g>
<g id="SAP102" class="o"><circle cx="235" cy="230" r="13"/><text x="235" y="233">SAP102</text></g>
<g id="PSD-95" class="o"><circle cx="207" cy="252" r="17"/><text x="206" y="255">PSD-95</text></g>
<g id="LIN7B" class="o"><circle cx="262" cy="230" r="6"/><text x="263" y="244">LIN7B</text></g>
<g id="SHAN1" class="o"><circle cx="270" cy="250" r="5"/><text x="272" y="263">SHAN1</text></g>
<g id="LRRC7" class="o"><circle cx="288" cy="247" r="6"/><text x="292" y="255">LRRC7</text></g>
<g id="SHAN2" class="o"><circle cx="310" cy="262" r="5"/><text x="307" y="275">SHAN2</text></g>
<g id="CNKR2" class="o"><circle cx="333" cy="268" r="5"/><text x="335" y="280">CNKR2</text></g>
<g id="RGS3" class="o"><circle cx="351" cy="240" r="7"/><text x="351" y="243">RGS3</text></g>
<g id="MAGI3" class="o"><circle cx="352" cy="263" r="7"/><text x="353" y="266">MAGI3</text></g>
<g id="SI1L1" class="o"><circle cx="152" cy="258" r="5"/><text x="152" y="271">SI1L1</text></g>
<g id="APBA3" class="o"><circle cx="154" cy="281" r="5"/><text x="161" y="294">APBA3</text></g>
<g id="APBA2" class="o"><circle cx="139" cy="287" r="7"/><text x="144" y="301">APBA2</text></g>
<g id="CSKP" class="o"><circle cx="184" cy="288" r="6"/><text x="186" y="303">CSKP</text></g>
<g id="PTN4" class="o"><circle cx="263" cy="276" r="6"/><text x="264" y="290">PTN4</text></g>
<g id="MAGI2" class="o"><circle cx="302" cy="294" r="9"/><text x="302" y="297">MAGI2</text></g>
<g id="CNKR3" class="o"><circle cx="352" cy="305" r="10"/><text x="355" y="322">CNKR3</text></g>
<g id="ZO3" class="o"><circle cx="478" cy="277" r="6"/><text x="463" y="280">ZO3</text></g>
<g id="ZO2" class="o"><circle cx="483" cy="293" r="6"/><text x="483" y="307">ZO2</text></g>
<g id="RGS12" class="o"><circle cx="443" cy="307" r="8"/><text x="443" y="310">RGS12</text></g>
<g id="ZO1" class="o"><circle cx="514" cy="324" r="15"/><text x="514" y="327">ZO1</text></g>
<g id="RADIL" class="o"><circle cx="548" cy="334" r="7"/><text x="548" y="350">RADIL</text></g>
<g id="PZRN4" class="o"><circle cx="613" cy="308" r="6"/><text x="613" y="322">PZRN4</text></g>
<g id="SDCB2" class="o"><circle cx="69" cy="302" r="6"/><text x="67" y="317">SDCB2</text></g>
<g id="PDZD2" class="o"><circle cx="174" cy="319" r="11"/><text x="174" y="322">PDZD2</text></g>
<g id="LAP2" class="o"><circle cx="319" cy="320" r="5"/><text x="320" y="333">LAP2</text></g>
<g id="GRASP" class="o"><circle cx="268" cy="348" r="6"/><text x="263" y="342">GRASP</text></g>
<g id="RIMS1" class="o"><circle cx="308" cy="342" r="8"/><text x="308" y="357">RIMS1</text></g>
<g id="Q32P40" class="o"><circle cx="337" cy="355" r="6"/><text x="345" y="369">Q32P40</text></g>
<g id="AFAD" class="o"><circle cx="315" cy="368" r="7"/><text x="314" y="372">AFAD</text></g>
<g id="ARHGC" class="o"><circle cx="422" cy="349" r="7"/><text x="414" y="365">ARHGC</text></g>
<g id="ARHGB" class="o"><circle cx="450" cy="353" r="7"/><text x="451" y="367">ARHGB</text></g>
<g id="GRIP1" class="o"><circle cx="406" cy="370" r="6"/><text x="404" y="385">GRIP1</text></g>
<g id="GRIP2" class="o"><circle cx="373" cy="378" r="7"/><text x="373" y="392">GRIP2</text></g>
<g id="PICK1" class="o"><circle cx="395" cy="404" r="12"/><text x="395" y="407">PICK1</text></g>
<g id="PZRN3" class="o"><circle cx="417" cy="414" r="5"/><text x="418" y="427">PZRN3</text></g>
<g id="MPP6" class="o"><circle cx="357" cy="446" r="8"/><text x="358" y="436">MPP6</text></g>
<g id="CYTIP" class="o"><circle cx="297" cy="453" r="5"/><text x="297" y="467">CYTIP</text></g>
<g id="USH1C" class="o"><circle cx="230" cy="439" r="6"/><text x="231" y="453">USH1C</text></g>
<g id="SYJ2B" class="o"><circle cx="221" cy="412" r="6"/><text x="230" y="424">SYJ2B</text></g>
<g id="SDCB1" class="o"><circle cx="280" cy="378" r="10"/><text x="280" y="381">SDCB1</text></g>
<g id="GIPC1" class="o"><circle cx="213" cy="373" r="11"/><text x="213" y="376">GIPC1</text></g>
<g id="MPP3" class="o"><circle cx="180" cy="372" r="9"/><text x="180" y="375">MPP3</text></g>
<g id="GIPC2" class="o"><circle cx="157" cy="357" r="6"/><text x="155" y="372">GIPC2</text></g>
<g id="PKHD1" class="o"><circle cx="50" cy="354" r="5"/><text x="72" y="364">PKHD1</text></g>
<g id="TIAM2" class="o"><circle cx="106" cy="421" r="5"/><text x="103" y="435">TIAM2</text></g>
<g id="legend">
<g class="o"><circle cx="573" cy="438" r="8"/></g>
<text class="lg" x="587" y="442">PDZ protein</text>
<circle class="b" cx="573" cy="461" r="8"/>
<text class="lg" x="587" y="465">PDZ ligand</text>
</g>
</svg>
